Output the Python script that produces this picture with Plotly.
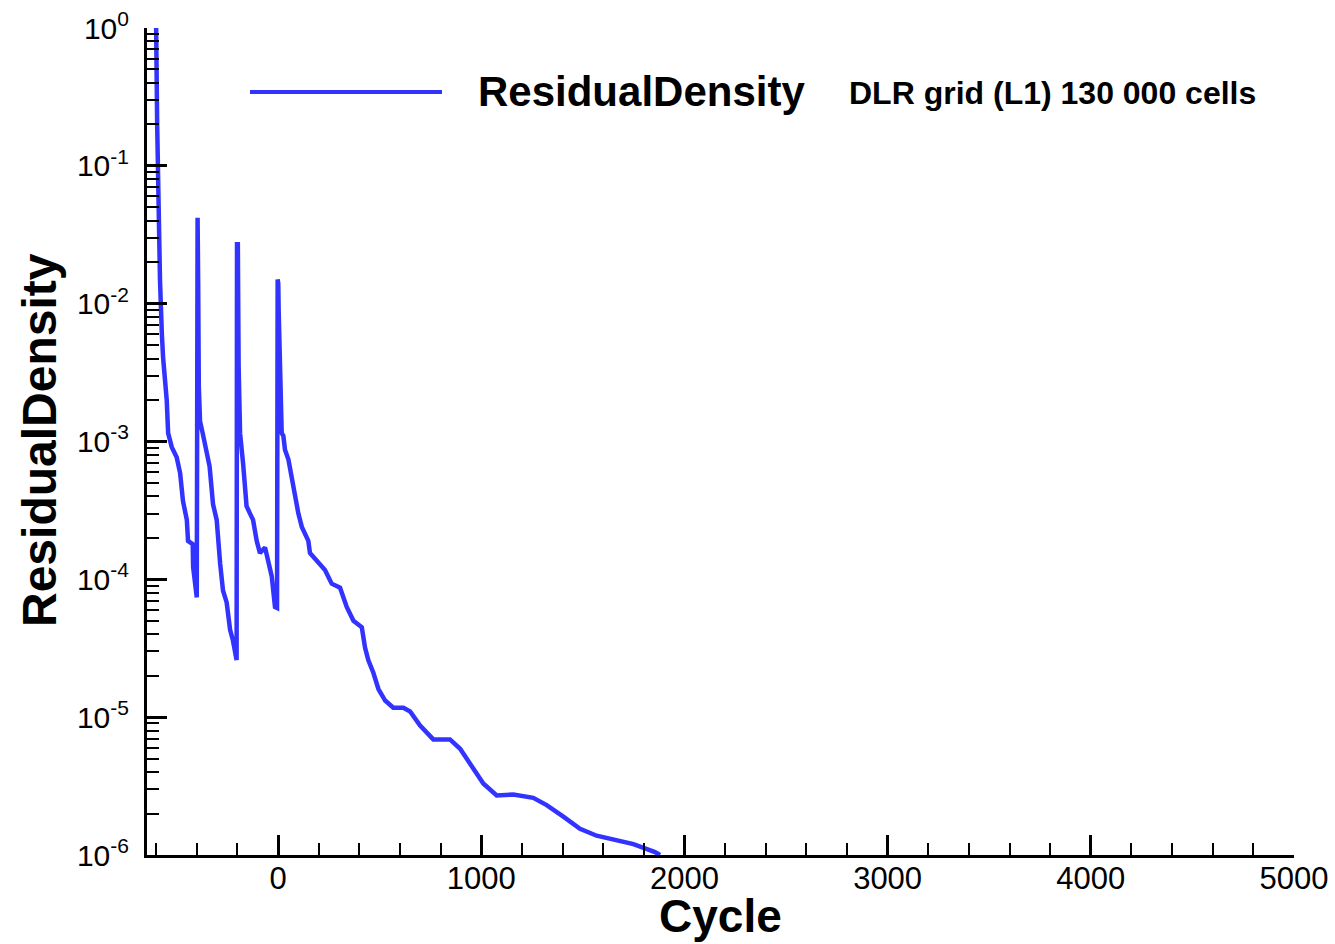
import plotly.graph_objects as go

# ---- data ----
cycle = [-605, -600, -595, -589, -581, -572, -566, -548, -541, -523, -499, -482, -468, -449, -443,
         -420, -418, -400,
         -398, -396, -393, -390, -384, -371, -355, -337, -320, -302, -285, -271, -253, -236, -222, -204,
         -202, -198, -194, -187, -172, -155, -138, -123, -105, -89, -64, -49, -31, -15, -5,
         -2, 1, 3, 10, 18, 26, 34, 51, 75, 100, 117, 149, 157, 198, 231, 264, 305, 338, 371,
         412, 428, 444, 469, 494, 527, 567, 617, 650, 699, 764, 846, 896, 945, 1010, 1076,
         1158, 1256, 1322, 1404, 1486, 1568, 1667, 1749, 1855, 1880]
residual = [1.0, 1.0, 0.20, 0.056, 0.0148, 6.1e-3, 4.1e-3, 2.0e-3, 1.15e-3, 9.1e-4, 7.7e-4, 5.9e-4, 3.7e-4, 2.7e-4, 1.9e-4,
            1.8e-4, 1.23e-4, 7.4e-5,
            4.2e-2, 4.2e-2, 1.3e-2, 2.5e-3, 1.4e-3, 1.15e-3, 8.7e-4, 6.6e-4, 3.5e-4, 2.7e-4, 1.3e-4, 8.3e-5, 6.8e-5, 4.3e-5, 3.6e-5, 2.6e-5,
            2.7e-2, 2.7e-2, 3.5e-3, 1.15e-3, 6.9e-4, 3.4e-4, 3.0e-4, 2.7e-4, 1.9e-4, 1.55e-4, 1.7e-4, 1.38e-4, 1.05e-4, 6.3e-5, 6.2e-5,
            1.5e-2, 1.4e-2, 8.9e-3, 2.8e-3, 1.15e-3, 1.1e-3, 8.7e-4, 7.4e-4, 4.5e-4, 3.0e-4, 2.4e-4, 1.9e-4, 1.55e-4, 1.32e-4, 1.17e-4,
            9.3e-5, 8.7e-5, 6.3e-5, 5.0e-5,
            4.5e-5, 3.2e-5, 2.6e-5, 2.1e-5, 1.6e-5, 1.32e-5, 1.17e-5, 1.17e-5, 1.1e-5, 8.7e-6, 6.9e-6, 6.9e-6, 5.9e-6, 4.6e-6, 3.3e-6, 2.7e-6,
            2.75e-6, 2.6e-6, 2.3e-6, 1.9e-6, 1.55e-6, 1.38e-6, 1.29e-6, 1.2e-6, 1.05e-6, 1.0e-6]

series_name = "ResidualDensity"
subtitle = "DLR grid (L1) 130 000 cells"
x_title = "Cycle"
y_title = "ResidualDensity"
y_tickvals = [1e-6, 1e-5, 1e-4, 1e-3, 1e-2, 1e-1, 1e0]
y_ticktext = ["10<sup>-6</sup>", "10<sup>-5</sup>", "10<sup>-4</sup>", "10<sup>-3</sup>",
              "10<sup>-2</sup>", "10<sup>-1</sup>", "10<sup>0</sup>"]

BLUE = "#3333ff"
FONT = "Liberation Sans, Arial, Helvetica, sans-serif"

L, R, T, B = 147, 41, 28, 89
PW, PH = 1335 - L - R, 944 - T - B


def px(xp):
    return (xp - L) / PW


def py(yp):
    return (944 - B - yp) / PH


fig = go.Figure()
fig.add_trace(go.Scatter(x=cycle, y=residual, mode="lines", name=series_name,
                         line=dict(color=BLUE, width=4.5), showlegend=False))

fig.update_layout(
    width=1335, height=944,
    margin=dict(l=L, r=R, t=T, b=B, autoexpand=False),
    paper_bgcolor="white", plot_bgcolor="white",
    font=dict(family=FONT, color="black"),
)

fig.update_xaxes(
    range=[-645, 5000], showgrid=False, zeroline=False, automargin=False,
    showline=True, linecolor="black", linewidth=3,
    ticks="inside", ticklen=20, tickwidth=3, tickcolor="black",
    tick0=0, dtick=1000,
    minor=dict(ticks="inside", ticklen=12, tickwidth=1.5, tickcolor="black", dtick=200, tick0=0, showgrid=False),
    tickfont=dict(size=31, family=FONT),
    ticklabelstandoff=-6,
)
fig.update_yaxes(
    type="log", range=[-6, 0], showgrid=False, zeroline=False, automargin=False,
    showline=True, linecolor="black", linewidth=3,
    ticks="inside", ticklen=20, tickwidth=3, tickcolor="black",
    tickvals=y_tickvals, ticktext=y_ticktext,
    minor=dict(ticks="inside", ticklen=12, tickwidth=1.5, tickcolor="black", dtick="D1", showgrid=False),
    tickfont=dict(size=30, family=FONT),
    ticklabelstandoff=9,
)

# axis titles
fig.add_annotation(xref="paper", yref="paper", x=px(720), y=py(916),
                   xanchor="center", yanchor="middle", showarrow=False,
                   text="<b>" + x_title + "</b>", font=dict(size=46, family=FONT, color="black"))
fig.add_annotation(xref="paper", yref="paper", x=px(40), y=py(440),
                   xanchor="center", yanchor="middle", showarrow=False, textangle=-90,
                   text="<b>" + y_title + "</b>", font=dict(size=48, family=FONT, color="black"))

# legend key (line sample) and legend texts
fig.add_shape(type="line", xref="paper", yref="paper",
              x0=px(250), x1=px(442), y0=py(92), y1=py(92),
              line=dict(color=BLUE, width=4))
fig.add_annotation(xref="paper", yref="paper", x=px(476), y=py(91),
                   xanchor="left", yanchor="middle", showarrow=False,
                   text="<b>" + series_name + "</b>", font=dict(size=42, family=FONT, color="black"))
fig.add_annotation(xref="paper", yref="paper", x=px(847), y=py(93),
                   xanchor="left", yanchor="middle", showarrow=False,
                   text="<b>" + subtitle + "</b>", font=dict(size=32, family=FONT, color="black"))

fig.write_html("out.html", config={"displayModeBar": False},
               post_script="document.body.style.margin='0';")
